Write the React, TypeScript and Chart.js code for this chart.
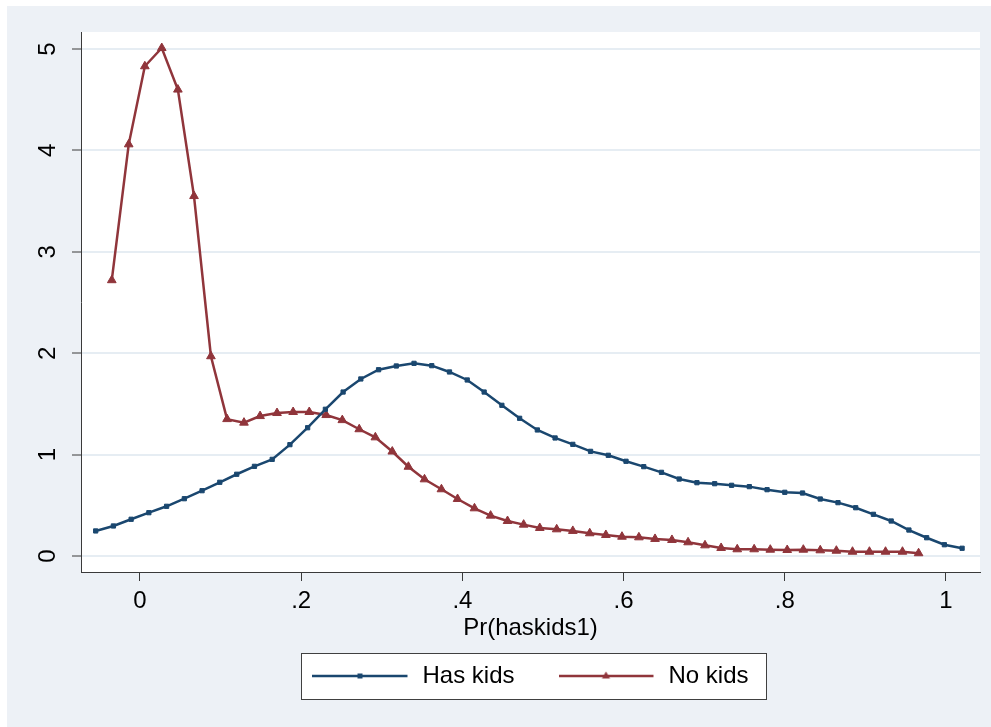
import React, { useEffect, useRef } from 'react';
import { Chart, registerables } from 'chart.js';

Chart.register(...registerables);

// ---- Data ----
const seriesNames = ['Has kids', 'No kids'];

const hasKidsX = [
  -0.055, -0.033, -0.011, 0.011, 0.033, 0.055, 0.077, 0.099, 0.120, 0.142,
  0.164, 0.186, 0.208, 0.230, 0.252, 0.274, 0.296, 0.318, 0.340, 0.362,
  0.384, 0.406, 0.427, 0.449, 0.471, 0.493, 0.515, 0.537, 0.559, 0.581,
  0.603, 0.625, 0.647, 0.669, 0.691, 0.713, 0.734, 0.756, 0.778, 0.800,
  0.822, 0.844, 0.866, 0.888, 0.910, 0.932, 0.954, 0.976, 0.998, 1.020,
];
const hasKidsY = [
  0.247, 0.296, 0.362, 0.427, 0.49, 0.565, 0.644, 0.727, 0.806, 0.884,
  0.953, 1.098, 1.265, 1.447, 1.617, 1.746, 1.837, 1.874, 1.9, 1.877,
  1.815, 1.736, 1.617, 1.486, 1.358, 1.243, 1.164, 1.101, 1.032, 0.993,
  0.934, 0.881, 0.825, 0.759, 0.723, 0.713, 0.697, 0.684, 0.654, 0.628,
  0.621, 0.562, 0.526, 0.476, 0.411, 0.345, 0.256, 0.18, 0.111, 0.076,
];

const noKidsX = [
  -0.035, -0.014, 0.006, 0.027, 0.047, 0.067, 0.088, 0.108, 0.129, 0.149,
  0.170, 0.190, 0.210, 0.231, 0.251, 0.272, 0.292, 0.313, 0.333, 0.353,
  0.374, 0.394, 0.415, 0.435, 0.456, 0.476, 0.496, 0.517, 0.537, 0.558,
  0.578, 0.598, 0.619, 0.639, 0.660, 0.680, 0.701, 0.721, 0.741, 0.762,
  0.782, 0.803, 0.823, 0.844, 0.864, 0.884, 0.905, 0.925, 0.946, 0.966,
];
const noKidsY = [
  2.72, 4.06, 4.83, 5.01, 4.6, 3.55, 1.97, 1.35, 1.315, 1.38,
  1.41, 1.42, 1.42, 1.39, 1.34, 1.25, 1.17, 1.03, 0.88, 0.756,
  0.658, 0.562, 0.47, 0.398, 0.345, 0.309, 0.276, 0.263, 0.247, 0.224,
  0.207, 0.19, 0.184, 0.168, 0.158, 0.135, 0.105, 0.079, 0.066, 0.066,
  0.062, 0.059, 0.062, 0.056, 0.052, 0.042, 0.042, 0.042, 0.042, 0.027,
];

const xTickValues = [0, 0.2, 0.4, 0.6, 0.8, 1];
const xTickLabels = ['0', '.2', '.4', '.6', '.8', '1'];
const yTickValues = [0, 1, 2, 3, 4, 5];
const yTickLabels = ['0', '1', '2', '3', '4', '5'];
const xAxisTitle = 'Pr(haskids1)';

// ---- Styles ----
const BLUE = '#1a476f';
const RED = '#90353b';
const BG = '#edf1f6';
const GRID = '#e6edf3';
const AXIS = '#3a3a3a';
const FONT_FAMILY = '"Liberation Sans", Arial, sans-serif';

function makeLegendIcon(color: string, kind: 'square' | 'triangle') {
  const c = document.createElement('canvas');
  c.width = 98;
  c.height = 14;
  const g = c.getContext('2d')!;
  g.strokeStyle = color;
  g.lineWidth = 2.5;
  g.beginPath();
  g.moveTo(0, 7);
  g.lineTo(95, 7);
  g.stroke();
  g.fillStyle = color;
  if (kind === 'square') {
    g.fillRect(45, 4.5, 5, 5);
  } else {
    g.beginPath();
    g.moveTo(47.5, 2.5);
    g.lineTo(51.5, 9.5);
    g.lineTo(43.5, 9.5);
    g.closePath();
    g.fill();
  }
  return c;
}

const stataPlugin = {
  id: 'stataBackground',
  beforeDraw(chart: any) {
    const { ctx, width, height, chartArea } = chart;
    ctx.save();
    ctx.fillStyle = '#ffffff';
    ctx.fillRect(0, 0, width, height);
    ctx.fillStyle = BG;
    ctx.fillRect(7, 6, width - 7, height - 6);
    ctx.fillStyle = '#ffffff';
    ctx.fillRect(chartArea.left, chartArea.top, chartArea.right - chartArea.left, chartArea.bottom - chartArea.top);
    // legend frame
    const legend = chart.legend;
    if (legend && legend.legendHitBoxes && legend.legendHitBoxes.length) {
      const hb = legend.legendHitBoxes;
      const first = hb[0];
      const last = hb[hb.length - 1];
      const cy = first.top + first.height / 2;
      const left = first.left - 11;
      const right = last.left + last.width + 18;
      ctx.fillStyle = '#ffffff';
      ctx.fillRect(left, cy - 23, right - left, 46);
      ctx.strokeStyle = '#404040';
      ctx.lineWidth = 1;
      ctx.strokeRect(Math.round(left) + 0.5, Math.round(cy - 23) + 0.5, Math.round(right - left), 46);
    }
    ctx.restore();
  },
};

export default function App() {
  const canvasRef = useRef<HTMLCanvasElement | null>(null);

  useEffect(() => {
    if (!canvasRef.current) return;
    const iconBlue = makeLegendIcon(BLUE, 'square');
    const iconRed = makeLegendIcon(RED, 'triangle');

    const chart = new Chart(canvasRef.current, {
      type: 'line',
      data: {
        datasets: [
          {
            label: seriesNames[0],
            data: hasKidsX.map((x, i) => ({ x, y: hasKidsY[i] })),
            borderColor: BLUE,
            backgroundColor: BLUE,
            borderWidth: 2.5,
            pointStyle: 'rect',
            pointRadius: 3,
            pointBorderWidth: 1,
            pointBackgroundColor: BLUE,
            pointBorderColor: BLUE,
            tension: 0,
            fill: false,
          },
          {
            label: seriesNames[1],
            data: noKidsX.map((x, i) => ({ x, y: noKidsY[i] })),
            borderColor: RED,
            backgroundColor: RED,
            borderWidth: 2.5,
            pointStyle: 'triangle',
            pointRadius: 5,
            pointBorderWidth: 1,
            pointBackgroundColor: RED,
            pointBorderColor: RED,
            tension: 0,
            fill: false,
          },
        ],
      },
      options: {
        animation: false,
        responsive: false,
        maintainAspectRatio: false,
        layout: { padding: { left: 7, top: 32, right: 11, bottom: 29 } },
        plugins: {
          tooltip: { enabled: false },
          title: { display: false },
          legend: {
            display: true,
            position: 'bottom',
            fullSize: false,
            align: 'center',
            labels: {
              usePointStyle: true,
              pointStyleWidth: 98,
              padding: 44,
              color: '#000000',
              font: { family: FONT_FAMILY, size: 24 },
              generateLabels: () => [
                { text: seriesNames[0], pointStyle: iconBlue as any, fillStyle: BLUE, strokeStyle: BLUE, lineWidth: 0, hidden: false, datasetIndex: 0 },
                { text: seriesNames[1], pointStyle: iconRed as any, fillStyle: RED, strokeStyle: RED, lineWidth: 0, hidden: false, datasetIndex: 1 },
              ],
            },
          },
        },
        scales: {
          x: {
            type: 'linear',
            min: -0.0732,
            max: 1.0422,
            afterBuildTicks: (scale: any) => {
              scale.ticks = xTickValues.map((v) => ({ value: v }));
            },
            afterFit: (scale: any) => {
              scale.height = 48;
            },
            ticks: {
              autoSkip: false,
              minRotation: 0,
              maxRotation: 0,
              padding: 6,
              color: '#000000',
              font: { family: FONT_FAMILY, size: 24 },
              callback: (_v: any, i: number) => xTickLabels[i],
            },
            grid: {
              display: true,
              drawOnChartArea: false,
              drawTicks: true,
              tickLength: 9,
              tickColor: AXIS,
              tickWidth: 1,
            },
            border: { display: true, color: AXIS, width: 1 },
            title: {
              display: true,
              text: xAxisTitle,
              color: '#000000',
              font: { family: FONT_FAMILY, size: 24 },
              padding: { top: 0, bottom: -22.4 },
            },
          },
          y: {
            type: 'linear',
            min: -0.158,
            max: 5.168,
            afterBuildTicks: (scale: any) => {
              scale.ticks = yTickValues.map((v) => ({ value: v }));
            },
            afterFit: (scale: any) => {
              scale.width = 74;
            },
            ticks: {
              autoSkip: false,
              minRotation: 90,
              maxRotation: 90,
              crossAlign: 'center',
              padding: 17,
              color: '#000000',
              font: { family: FONT_FAMILY, size: 24 },
              callback: (_v: any, i: number) => yTickLabels[i],
            },
            grid: {
              display: true,
              drawOnChartArea: true,
              color: GRID,
              lineWidth: 2,
              drawTicks: true,
              tickLength: 9,
              tickColor: AXIS,
              tickWidth: 1,
            },
            border: { display: true, color: AXIS, width: 1 },
          },
        },
      } as any,
      plugins: [stataPlugin],
    });

    return () => chart.destroy();
  }, []);

  return (
    <div style={{ position: 'absolute', left: 0, top: 0, width: 991, height: 727, background: '#ffffff' }}>
      <canvas ref={canvasRef} width={991} height={727} style={{ display: 'block', width: 991, height: 727 }} />
    </div>
  );
}
